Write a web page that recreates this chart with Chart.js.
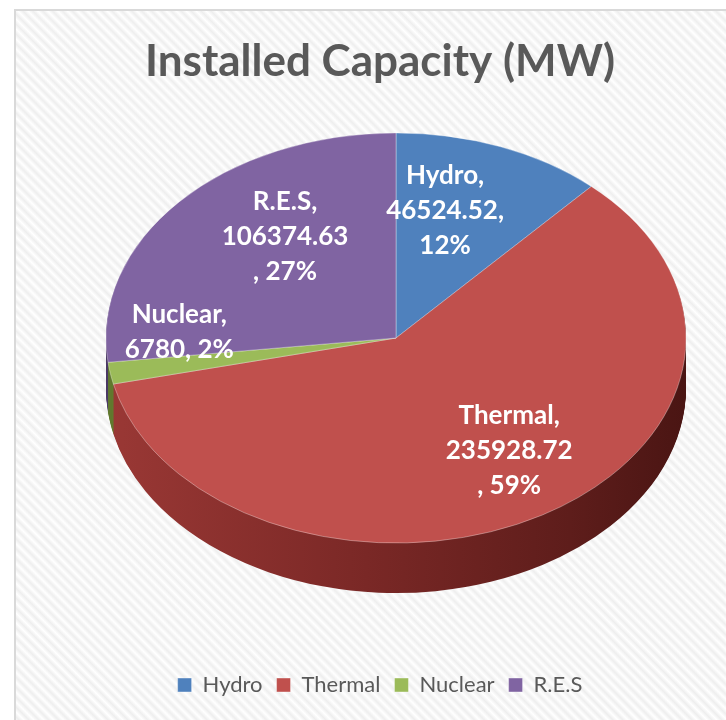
<!DOCTYPE html>
<html>
<head>
<meta charset="utf-8">
<script src="https://cdn.jsdelivr.net/npm/chart.js@4.4.1/dist/chart.umd.min.js"></script>
<style>
  html, body { margin: 0; padding: 0; width: 726px; height: 720px; overflow: hidden; background: #fff; }
  #frame {
    position: absolute; left: 14px; top: 9px; width: 800px; height: 800px;
    border-left: 2px solid #d9d9d9; border-top: 2px solid #d9d9d9;
    background: repeating-linear-gradient(45deg, #ffffff 0px, #eeeeee 3.5px, #ffffff 7px);
  }
  #chart { position: absolute; left: 0; top: 0; }
</style>
</head>
<body>
<div id="frame"></div>
<canvas id="chart" width="760" height="720"></canvas>
<script>
const categories = ['Hydro', 'Thermal', 'Nuclear', 'R.E.S'];
const capacity = [46524.52, 235928.72, 6780, 106374.63];
const capacityText = ['46524.52', '235928.72', '6780', '106374.63'];
const percents = [12, 59, 2, 27];
const colors = ['#4f81bd', '#c0504d', '#9bbb59', '#8064a2'];
const sideColors = ['#2f4f78', null, '#62792f', '#4e3b66'];

// how Excel wrapped each data label
const wrapStyle = ['three', 'split', 'two', 'split'];

// 3d look
const CX = 396, CY = 338, RADIUS = 290, TILT = 0.707, DEPTH = 50;
const labelRadius = 0.65;
const labelNudge = [[-19, -3], [18, -2], [-31, -29], [30, -13]];

function labelLines(i) {
  const cat = categories[i] + ',', val = capacityText[i], pct = percents[i] + '%';
  if (wrapStyle[i] === 'three') return [cat, val + ',', pct];
  if (wrapStyle[i] === 'two') return [cat, val + ', ' + pct];
  return [cat, val, ', ' + pct];
}

function tiltTo(ctx, arc, dy) {
  ctx.translate(CX, CY + dy);
  ctx.scale(1, TILT);
  ctx.translate(-arc.x, -arc.y);
}

const pie3d = {
  id: 'pie3d',
  beforeDatasetsDraw(chart) {
    const ctx = chart.ctx;
    const arcs = chart.getDatasetMeta(0).data;
    const a0 = arcs[0];
    const grad = ctx.createLinearGradient(a0.x - RADIUS, 0, a0.x + RADIUS, 0);
    grad.addColorStop(0, '#9a3835');
    grad.addColorStop(0.45, '#7a2826');
    grad.addColorStop(0.8, '#5e1d1b');
    grad.addColorStop(1, '#4a1513');
    for (let d = DEPTH; d >= 1; d--) {
      ctx.save();
      tiltTo(ctx, a0, d);
      arcs.forEach((arc, i) => {
        const saved = arc.options;
        arc.options = Object.assign({}, saved, { backgroundColor: sideColors[i] || grad, borderWidth: 0 });
        arc.draw(ctx);
        arc.options = saved;
      });
      ctx.restore();
    }
    ctx.save();
    tiltTo(ctx, a0, 0);
  },
  afterDatasetsDraw(chart) {
    const ctx = chart.ctx;
    ctx.restore();
    const arcs = chart.getDatasetMeta(0).data;
    ctx.save();
    ctx.fillStyle = '#ffffff';
    ctx.font = 'bold 26px Lato';
    ctx.textAlign = 'center';
    ctx.textBaseline = 'middle';
    arcs.forEach((arc, i) => {
      const mid = (arc.startAngle + arc.endAngle) / 2;
      const r = arc.outerRadius * labelRadius;
      const x = CX + Math.cos(mid) * r + labelNudge[i][0];
      const y = CY + Math.sin(mid) * r * TILT + labelNudge[i][1];
      const lines = labelLines(i);
      const lh = 35;
      lines.forEach((t, k) => {
        ctx.fillText(t, x, y + (k - (lines.length - 1) / 2) * lh);
      });
    });
    ctx.restore();
  }
};

new Chart(document.getElementById('chart'), {
  type: 'pie',
  data: {
    labels: categories,
    datasets: [{
      data: capacity,
      backgroundColor: colors,
      borderColor: 'rgba(255,255,255,0.4)',
      borderWidth: 1,
      radius: RADIUS,
      clip: false
    }]
  },
  options: {
    responsive: false,
    animation: false,
    events: [],
    layout: { padding: { bottom: 14 } },
    plugins: {
      title: {
        display: true,
        text: 'Installed Capacity (MW)',
        color: '#595959',
        font: { family: 'Lato', size: 44, weight: 'bold' },
        padding: { top: 35, bottom: 10 }
      },
      legend: {
        position: 'bottom',
        labels: {
          color: '#595959',
          font: { family: 'Lato', size: 22 },
          boxWidth: 14,
          boxHeight: 14,
          padding: 14
        }
      },
      tooltip: { enabled: false }
    }
  },
  plugins: [pie3d]
});
</script>
</body>
</html>
